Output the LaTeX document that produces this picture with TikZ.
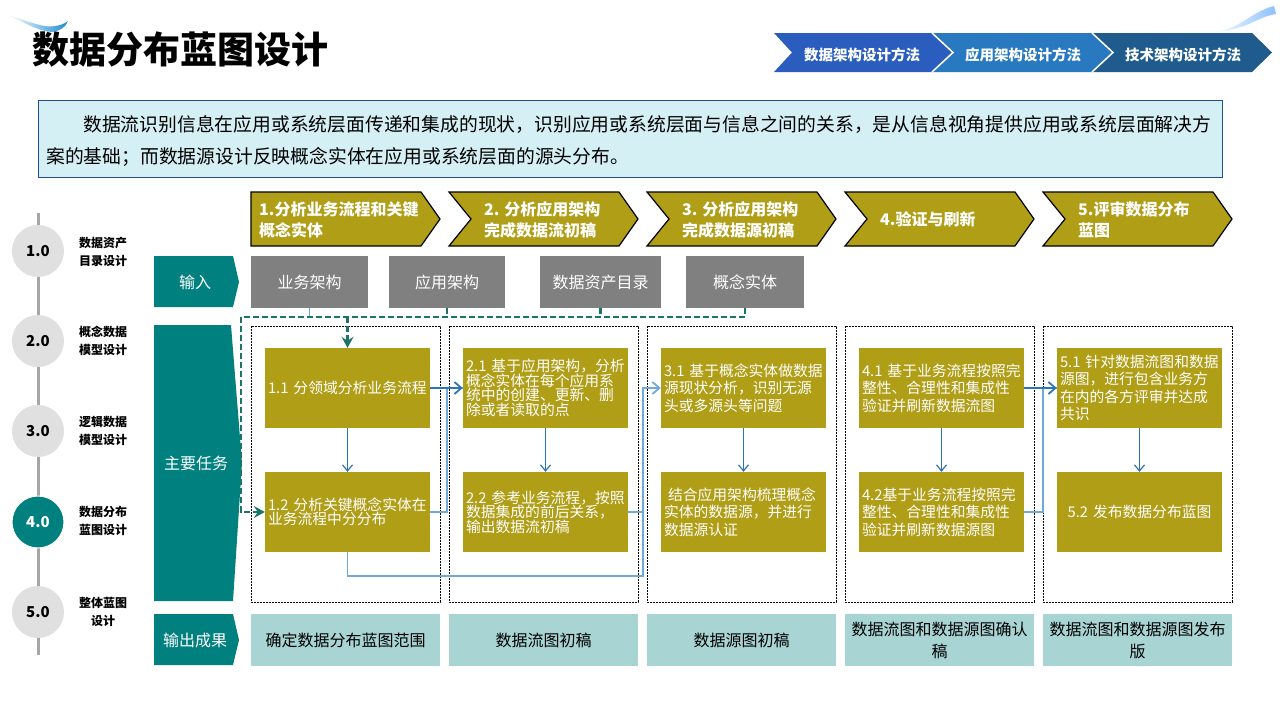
\documentclass[tikz,border=0pt]{standalone}
\usepackage{fontspec}
\setmainfont{Noto Sans CJK SC}
\usetikzlibrary{arrows.meta,calc}
\definecolor{teal1}{HTML}{00807F}
\definecolor{olive1}{HTML}{B09E17}
\definecolor{graybox}{HTML}{808080}
\definecolor{outbox}{HTML}{A8D4D4}
\definecolor{dteal}{HTML}{1B7468}
\definecolor{bl}{HTML}{2E75B6}
\definecolor{lbl}{HTML}{6FAADC}
\definecolor{desc}{HTML}{D5F0F5}
\definecolor{descb}{HTML}{1F4E99}
\definecolor{cv1}{HTML}{2A5DBE}
\definecolor{cv2}{HTML}{2879C0}
\definecolor{cv3}{HTML}{1F5B8C}
\definecolor{circ}{HTML}{E0E0E0}
\definecolor{tline}{HTML}{A6A6A6}
\begin{document}
\begin{tikzpicture}[x=1pt,y=-1pt,
  taskbox/.style={fill=olive1, text=white, minimum width=165pt, minimum height=80pt,
    text width=159pt, inner xsep=3pt, inner ysep=0pt, align=left,
    font=\fontsize{14.8}{14.5}\selectfont},
  taskboxb/.style={taskbox, font=\fontsize{14.8}{17.5}\selectfont},
  ibox/.style={fill=graybox, text=white, minimum height=52pt, inner sep=0pt,
    font=\fontsize{16}{18}\selectfont},
  obox/.style={fill=outbox, text=black, minimum width=189pt, minimum height=52pt,
    inner sep=0pt, align=center, font=\fontsize{16}{22}\selectfont},
  dbox/.style={draw=black, line width=0.8pt, dash pattern=on 2pt off 1pt},
  stagebox/.style={fill=olive1, draw=black, line width=1.2pt},
  stagetxt/.style={anchor=west, text=white, align=left, inner sep=0pt,
    font=\fontsize{16}{21}\selectfont\bfseries},
  toptxt/.style={text=white, inner sep=0pt, font=\fontsize{14.5}{16}\selectfont\bfseries},
  rowtxt/.style={text=white, inner sep=0pt, font=\fontsize{16}{18}\selectfont},
  circnode/.style={circle, fill=circ, minimum size=52pt, inner sep=0pt,
    font=\fontsize{15}{16}\selectfont\bfseries},
  circlbl/.style={align=center, inner sep=0pt, font=\fontsize{12}{18}\selectfont\bfseries},
  tdash/.style={draw=dteal, line width=2.6pt, dash pattern=on 6pt off 3pt},
  tarrow/.style={-{Stealth[length=11pt,width=12pt,inset=4pt]}},
  bline/.style={draw=bl, line width=1.2pt},
  lbline/.style={draw=lbl, line width=1.4pt},
  varrow/.style={bline, -{Straight Barb[length=6pt,width=10pt]}},
  harrow/.style={-{Straight Barb[length=7pt,width=12pt,line width=1.8pt]}}
]
\useasboundingbox (0,0) rectangle (1280,720);
\fill[white] (0,0) rectangle (1280,720);

% decorative swooshes
\shade[left color=white, right color=cv1!70!cyan] (8,15) .. controls (25,23) and (38,31) .. (52,32)
  .. controls (60,31) and (66,27) .. (68,21) .. controls (62,26) and (50,28) .. (40,25)
  .. controls (28,22) and (18,18) .. (8,15) -- cycle;
\shade[left color=white, right color=cyan!45!blue!45] (1212,32) .. controls (1240,30) and (1250,12) .. (1274,6)
  -- (1276,14) .. controls (1256,17) and (1246,31) .. (1212,32) -- cycle;

% title
\node[anchor=west, inner sep=0pt, font=\fontsize{37}{40}\selectfont\bfseries] (title) at (32,49) {数据分布蓝图设计};

% top chevrons
\fill[cv1] (774,33) -- (932,33) -- (953,52.5) -- (932,72) -- (774,72) -- (792,52.5) -- cycle;
\fill[cv2] (932,33) -- (1092,33) -- (1113,52.5) -- (1092,72) -- (932,72) -- (953,52.5) -- cycle;
\fill[cv3] (1092,33) -- (1252,33) -- (1272,52.5) -- (1252,72) -- (1092,72) -- (1113,52.5) -- cycle;
\draw[white, line width=1.5pt] (932,33) -- (953,52.5) -- (932,72) (1092,33) -- (1113,52.5) -- (1092,72);
\node[toptxt] (m1) at (862,55) {数据架构设计方法};
\node[toptxt] (m2) at (1023,55) {应用架构设计方法};
\node[toptxt] (m3) at (1183,55) {技术架构设计方法};

% description
\node[draw=descb, fill=desc, line width=1pt, minimum width=1184pt, minimum height=77pt, inner sep=0pt] (descbox) at (630,138.5) {};
\node[anchor=west, align=left, inner sep=0pt, font=\fontsize{18.8}{32}\selectfont] (desctxt) at (46,141)
  {\hspace*{37pt}数据流识别信息在应用或系统层面传递和集成的现状，识别应用或系统层面与信息之间的关系，是从信息视角提供应用或系统层面解决方\\案的基础；而数据源设计反映概念实体在应用或系统层面的源头分布。};

% timeline
\draw[tline, line width=3pt] (38,213) -- (38,655);
\node[circnode] (c1) at (38,251) {1.0};
\node[circnode] (c2) at (38,341) {2.0};
\node[circnode] (c3) at (38,431) {3.0};
\node[circnode, fill=teal1, text=white, draw=white, line width=1pt] (c4) at (38,522) {4.0};
\node[circnode] (c5) at (38,612) {5.0};
\node[circlbl] (l1) at (103,252) {数据资产\\目录设计};
\node[circlbl] (l2) at (103,341) {概念数据\\模型设计};
\node[circlbl] (l3) at (103,431) {逻辑数据\\模型设计};
\node[circlbl] (l4) at (103,521) {数据分布\\蓝图设计};
\node[circlbl] (l5) at (103,612) {整体蓝图\\设计};

% row labels
\fill[teal1] (154,256) -- (233,256) -- (239,282) -- (233,307) -- (154,307) -- cycle;
\node[rowtxt] (rin) at (195,282) {输入};
\fill[teal1] (154,325) -- (231,325) -- (242,463) -- (233,601) -- (154,601) -- cycle;
\node[rowtxt] (rtask) at (196,463) {主要任务};
\fill[teal1] (154,614) -- (233,614) -- (239,640) -- (233,665) -- (154,665) -- cycle;
\node[rowtxt] (rout) at (195,640) {输出成果};

% stage chevrons
\fill[stagebox] (251,192) -- (421,192) -- (440,219) -- (421,246) -- (251,246) -- cycle;
\foreach \L in {449,647,845,1043} {
  \fill[stagebox] (\L,192) -- ({\L+170},192) -- ({\L+189},219) -- ({\L+170},246) -- (\L,246) -- ({\L+22},219) -- cycle;
}
\node[stagetxt] (s1) at (259,219.5) {1.分析业务流程和关键\\概念实体};
\node[stagetxt] (s2) at (484,219.5) {2. 分析应用架构\\完成数据流初稿};
\node[stagetxt] (s3) at (682,219.5) {3. 分析应用架构\\完成数据源初稿};
\node[stagetxt] (s4) at (880,219) {4.验证与刷新};
\node[stagetxt] (s5) at (1078,219.5) {5.评审数据分布\\蓝图};

% input boxes
\node[ibox, minimum width=117pt] (g1) at (309.5,282) {业务架构};
\node[ibox, minimum width=116pt] (g2) at (447,282) {应用架构};
\node[ibox, minimum width=121pt] (g3) at (600.5,282) {数据资产目录};
\node[ibox, minimum width=118pt] (g4) at (745,282) {概念实体};

% dashed frames
\foreach \L in {251,449,647,845,1043} {
  \draw[dbox] (\L,326) rectangle ({\L+189},602);
}

% task boxes
\node[taskbox] (t11) at (347.5,388) {1.1~分领域分析业务流程};
\node[taskbox] (t12) at (347.5,512) {1.2~分析关键概念实体在\\业务流程中分分布};
\node[taskbox] (t21) at (545.5,388) {2.1~基于应用架构，分析\\概念实体在每个应用系\\统中的创建、更新、删\\除或者读取的点};
\node[taskbox] (t22) at (545.5,512) {2.2~参考业务流程，按照\\数据集成的前后关系，\\输出数据流初稿};
\node[taskboxb] (t31) at (743.5,388) {3.1~基于概念实体做数据\\源现状分析，识别无源\\头或多源头等问题};
\node[taskboxb] (t32) at (743.5,512) {\hspace*{4pt}结合应用架构梳理概念\\实体的数据源，并进行\\数据源认证};
\node[taskboxb] (t41) at (941.5,388) {4.1~基于业务流程按照完\\整性、合理性和集成性\\验证并刷新数据流图};
\node[taskboxb] (t42) at (941.5,512) {4.2基于业务流程按照完\\整性、合理性和集成性\\验证并刷新数据源图};
\node[taskboxb] (t51) at (1139.5,388) {5.1~针对数据流图和数据\\源图，进行包含业务方\\在内的各方评审并达成\\共识};
\node[taskboxb, align=center] (t52) at (1139.5,512) {5.2~发布数据分布蓝图};

% output boxes
\node[obox] (o1) at (345.5,640) {确定数据分布蓝图范围};
\node[obox] (o2) at (543.5,640) {数据流图初稿};
\node[obox] (o3) at (741.5,640) {数据源图初稿};
\node[obox] (o4) at (939.5,640) {数据流图和数据源图确认\\稿};
\node[obox] (o5) at (1137.5,640) {数据流图和数据源图发布\\版};

% dashed input connectors
\coordinate (busL) at (241,317);
\draw[lbline] (g1.south) -- (g1.south |- busL);
\draw[tdash] (g2.south) -- (g2.south |- busL);
\draw[tdash] (g3.south) -- (g3.south |- busL);
\draw[tdash, tarrow] (g4.south) |- (busL) |- (t12.west);
\draw[tdash, tarrow] (t11.north |- busL) -- (t11.north);

% blue task connectors
\draw[varrow] (t11.south) -- (t12.north);
\draw[varrow] (t21.south) -- (t22.north);
\draw[varrow] (t31.south) -- (t32.north);
\draw[varrow] (t41.south) -- (t42.north);
\draw[varrow] (t51.south) -- (t52.north);

\coordinate (j2) at (447,512);
\coordinate (j3) at (643,576);
\coordinate (j5) at (1043,512);
\draw[lbline] (t12.east) -- (j2) |- (t21.west);
\draw[bline, harrow] (t11.east) -- (t21.west);
\draw[lbline] (t22.east) -- (t22.east -| j3);
\draw[lbline, harrow] (t12.south) |- (j3) |- (t31.west);
\draw[lbline] (t42.east) -- (j5) |- (t51.west);
\draw[bline, harrow] (t41.east) -- (t51.west);
\end{tikzpicture}
\end{document}
